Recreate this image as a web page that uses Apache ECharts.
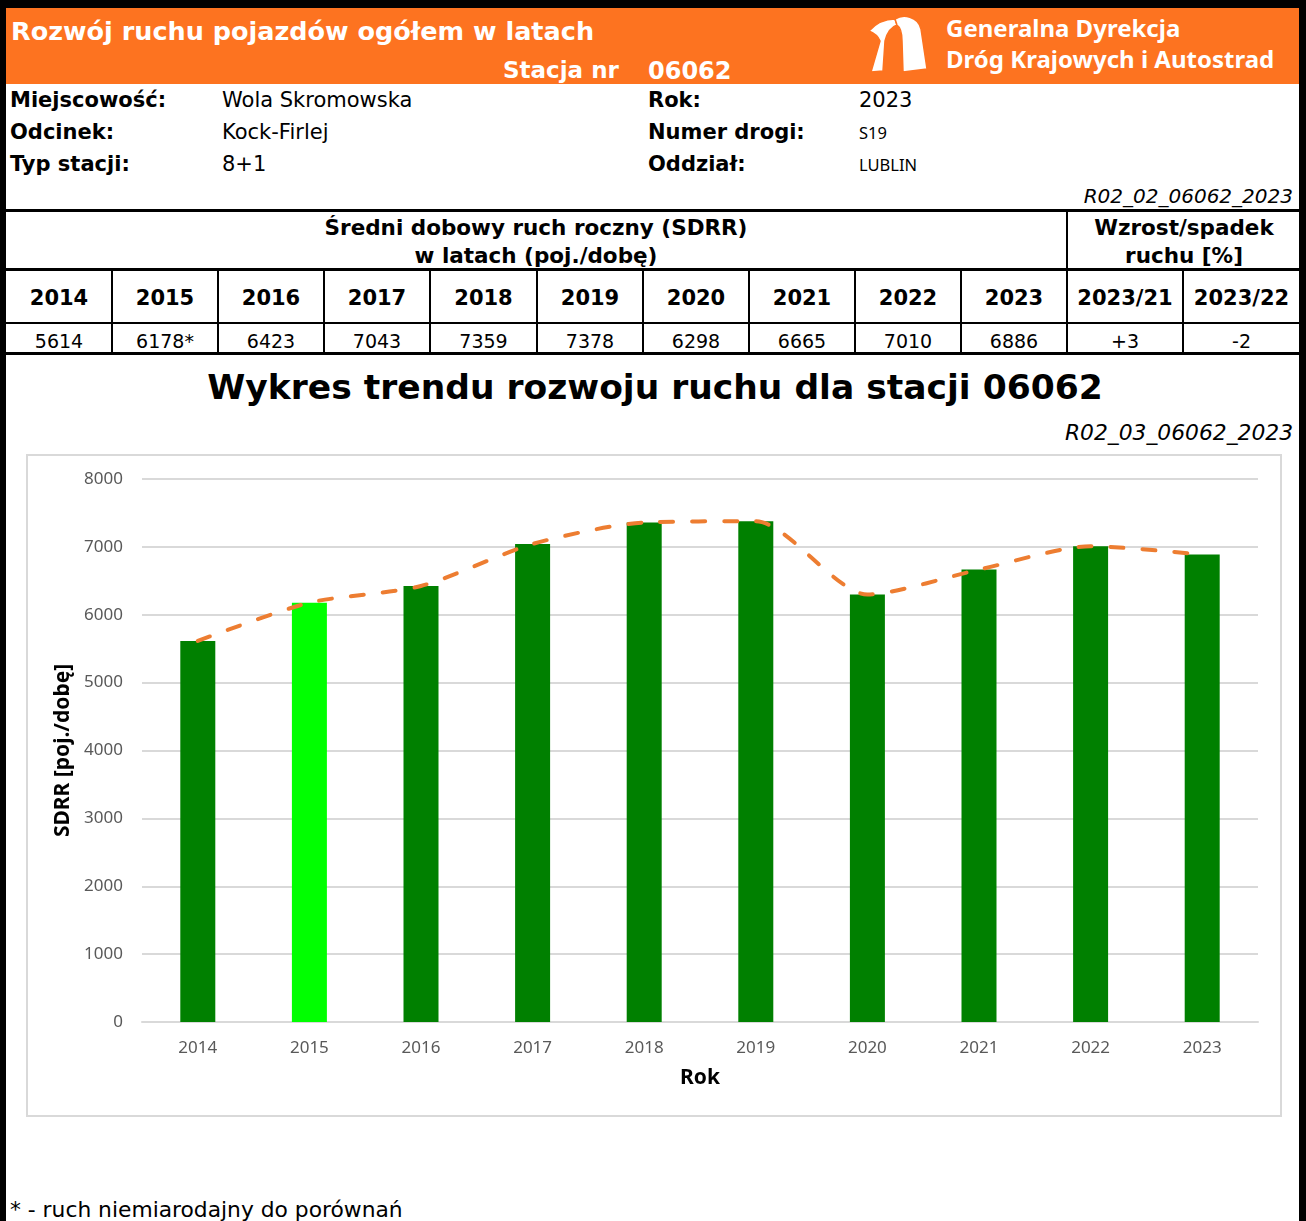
<!DOCTYPE html>
<html>
<head>
<meta charset="utf-8">
<script src="https://cdn.jsdelivr.net/npm/echarts@6/dist/echarts.min.js"></script>
<style>
  body { margin: 0; background: #fff; }
  #page { position: relative; width: 1306px; height: 1221px; overflow: hidden; font-family: 'DejaVu Sans', Verdana, sans-serif; color: #000; }
  .abs { position: absolute; white-space: nowrap; }
  .blk { position: absolute; background: #000; }
  .b { font-weight: bold; }
  .c { transform: translate(-50%, -50%); }
  .l { transform: translateY(-50%); }
  .r { transform: translate(-100%, -50%); }
</style>
</head>
<body>
<div id="page">
  <div class="abs" style="left:6px;top:8px;width:1293px;height:76px;background:#FD7320;"></div>
  <div class="blk" style="left:0;top:0;width:1306px;height:8px;"></div>
  <div class="blk" style="left:0;top:0;width:6px;height:1221px;"></div>
  <div class="blk" style="left:1299px;top:0;width:7px;height:1221px;"></div>

  <div class="abs b l" style="left:11px;top:31px;font-size:25.5px;color:#fff;">Rozwój ruchu pojazdów ogółem w latach</div>
  <div class="abs b l" style="left:503px;top:70px;font-size:23px;color:#fff;">Stacja nr</div>
  <div class="abs b l" style="left:648px;top:71px;font-size:24px;color:#fff;">06062</div>
  <svg class="abs" style="left:866px;top:14px;" width="64" height="62" viewBox="0 0 64 62">
    <path fill="#fff" stroke="#FD7320" stroke-width="1.5" d="M3,17 C10,9 20,5 29,5 L31,11 C25,13 21,19 19,27 L17,57 L5,58 L14,27 C12,22 8,19 3,17 Z"/>
    <path fill="#fff" stroke="#FD7320" stroke-width="1.5" d="M29,5 C37,0 52,2 55,15 L61,55 L37,58 L36,27 C36,19 34,13 31,11 Z"/>
  </svg>
  <div class="abs b l" style="left:946px;top:27px;font-size:24px;color:#fff;font-family:'Noto Sans';">Generalna Dyrekcja</div>
  <div class="abs b l" style="left:946px;top:58px;font-size:24px;color:#fff;font-family:'Noto Sans';">Dróg Krajowych i Autostrad</div>

  <div id="info"></div>
  <div class="abs r" style="left:1293px;top:196px;font-size:20px;font-style:italic;">R02_02_06062_2023</div>

  <div id="table"></div>

  <div class="abs b c" style="left:655px;top:387px;font-size:34.5px;">Wykres trendu rozwoju ruchu dla stacji 06062</div>
  <div class="abs r" style="left:1293px;top:432px;font-size:21.8px;font-style:italic;">R02_03_06062_2023</div>

  <div class="abs" style="left:26px;top:454px;width:1252px;height:659px;border:2px solid #d9d9d9;"></div>
  <div id="chart" class="abs" style="left:27px;top:455px;width:1253px;height:660px;"></div>

  <div class="abs l" style="left:10px;top:1209px;font-size:21.8px;">* - ruch niemiarodajny do porównań</div>
</div>
<script>
var years = ['2014', '2015', '2016', '2017', '2018', '2019', '2020', '2021', '2022', '2023'];
var sdrr = [5614, 6178, 6423, 7043, 7359, 7378, 6298, 6665, 7010, 6886];
var unreliableYears = ['2015'];
var changeLabels = ['2023/21', '2023/22'];
var changeValues = ['+3', '-2'];
var infoLeft = [['Miejscowość:', 'Wola Skromowska'], ['Odcinek:', 'Kock-Firlej'], ['Typ stacji:', '8+1']];
var infoRight = [['Rok:', '2023'], ['Numer drogi:', 'S19'], ['Oddział:', 'LUBLIN']];

function put(parent, html) { parent.insertAdjacentHTML('beforeend', html); }

// info rows
var info = document.getElementById('info');
var rowY = [100, 132, 164];
infoLeft.forEach(function (r, i) {
    put(info, '<div class="abs b l" style="left:10px;top:' + rowY[i] + 'px;font-size:21px;">' + r[0] + '</div>');
    put(info, '<div class="abs l" style="left:222px;top:' + rowY[i] + 'px;font-size:21px;">' + r[1] + '</div>');
});
infoRight.forEach(function (r, i) {
    put(info, '<div class="abs b l" style="left:648px;top:' + rowY[i] + 'px;font-size:21px;">' + r[0] + '</div>');
    var small = i > 0 ? "font-size:16.5px;font-family:'Noto Sans';" : 'font-size:21px;';
    put(info, '<div class="abs l" style="left:859px;top:' + rowY[i] + 'px;' + small + '">' + r[1] + '</div>');
});

// table
var tbl = document.getElementById('table');
var colX = [5, 111, 217, 323, 429, 536, 642, 748, 854, 960, 1066, 1182, 1299];
put(tbl, '<div class="blk" style="left:5px;top:209px;width:1294px;height:3px;"></div>');
put(tbl, '<div class="blk" style="left:5px;top:268px;width:1294px;height:3px;"></div>');
put(tbl, '<div class="blk" style="left:5px;top:322px;width:1294px;height:2px;"></div>');
put(tbl, '<div class="blk" style="left:5px;top:352px;width:1294px;height:3px;"></div>');
for (var k = 1; k < colX.length - 1; k++) {
    var lineTop = (k === 10) ? 210 : 269;
    put(tbl, '<div class="blk" style="left:' + colX[k] + 'px;top:' + lineTop + 'px;width:2px;height:' + (354 - lineTop) + 'px;"></div>');
}
put(tbl, '<div class="abs b c" style="left:536px;top:227px;font-size:21.5px;">Średni dobowy ruch roczny (SDRR)</div>');
put(tbl, '<div class="abs b c" style="left:536px;top:255px;font-size:21.5px;">w latach (poj./dobę)</div>');
put(tbl, '<div class="abs b c" style="left:1184px;top:227px;font-size:21.5px;">Wzrost/spadek</div>');
put(tbl, '<div class="abs b c" style="left:1184px;top:255px;font-size:21.5px;">ruchu [%]</div>');
var heads = years.concat(changeLabels);
var vals = sdrr.map(function (v, i) {
    return v + (unreliableYears.indexOf(years[i]) >= 0 ? '*' : '');
}).concat(changeValues);
heads.forEach(function (h, i) {
    var cx = (colX[i] + colX[i + 1] + 2) / 2;
    put(tbl, '<div class="abs b c" style="left:' + cx + 'px;top:298px;font-size:21px;">' + h + '</div>');
    put(tbl, '<div class="abs c" style="left:' + cx + 'px;top:341px;font-size:19px;">' + vals[i] + '</div>');
});

// chart
var chart = echarts.init(document.getElementById('chart'));
var labelFont = 'Noto Sans';
var option = {
    animation: false,
    grid: { left: 115, right: 22, top: 24, bottom: 93 },
    xAxis: {
        type: 'category',
        data: years,
        axisLine: { lineStyle: { color: '#d9d9d9', width: 2 } },
        axisTick: { show: false },
        axisLabel: { color: '#595959', fontSize: 17, fontFamily: labelFont, margin: 18 },
        name: 'Rok',
        nameLocation: 'middle',
        nameGap: 46,
        nameTextStyle: { color: '#000', fontSize: 21, fontWeight: 'bold', fontFamily: labelFont }
    },
    yAxis: {
        type: 'value',
        min: 0,
        max: 8000,
        interval: 1000,
        axisLine: { show: false },
        axisTick: { show: false },
        axisLabel: {
            color: '#595959', fontSize: 17, fontFamily: labelFont, margin: 19,
            formatter: function (v) { return String(v); }
        },
        splitLine: { lineStyle: { color: '#d9d9d9', width: 2 } },
        name: 'SDRR [poj./dobę]',
        nameLocation: 'middle',
        nameGap: 56,
        nameTextStyle: { color: '#000', fontSize: 21, fontWeight: 'bold', fontFamily: labelFont }
    },
    series: [
        {
            type: 'bar',
            barWidth: 35,
            data: sdrr.map(function (v, i) {
                return {
                    value: v,
                    itemStyle: { color: unreliableYears.indexOf(years[i]) >= 0 ? '#00FF00' : '#008000' }
                };
            })
        },
        {
            type: 'line',
            data: sdrr,
            smooth: 0.25,
            showSymbol: false,
            z: 5,
            lineStyle: { color: '#ED7D31', width: 4, type: [13, 19], cap: 'round' }
        }
    ]
};
chart.setOption(option);
</script>
</body>
</html>
